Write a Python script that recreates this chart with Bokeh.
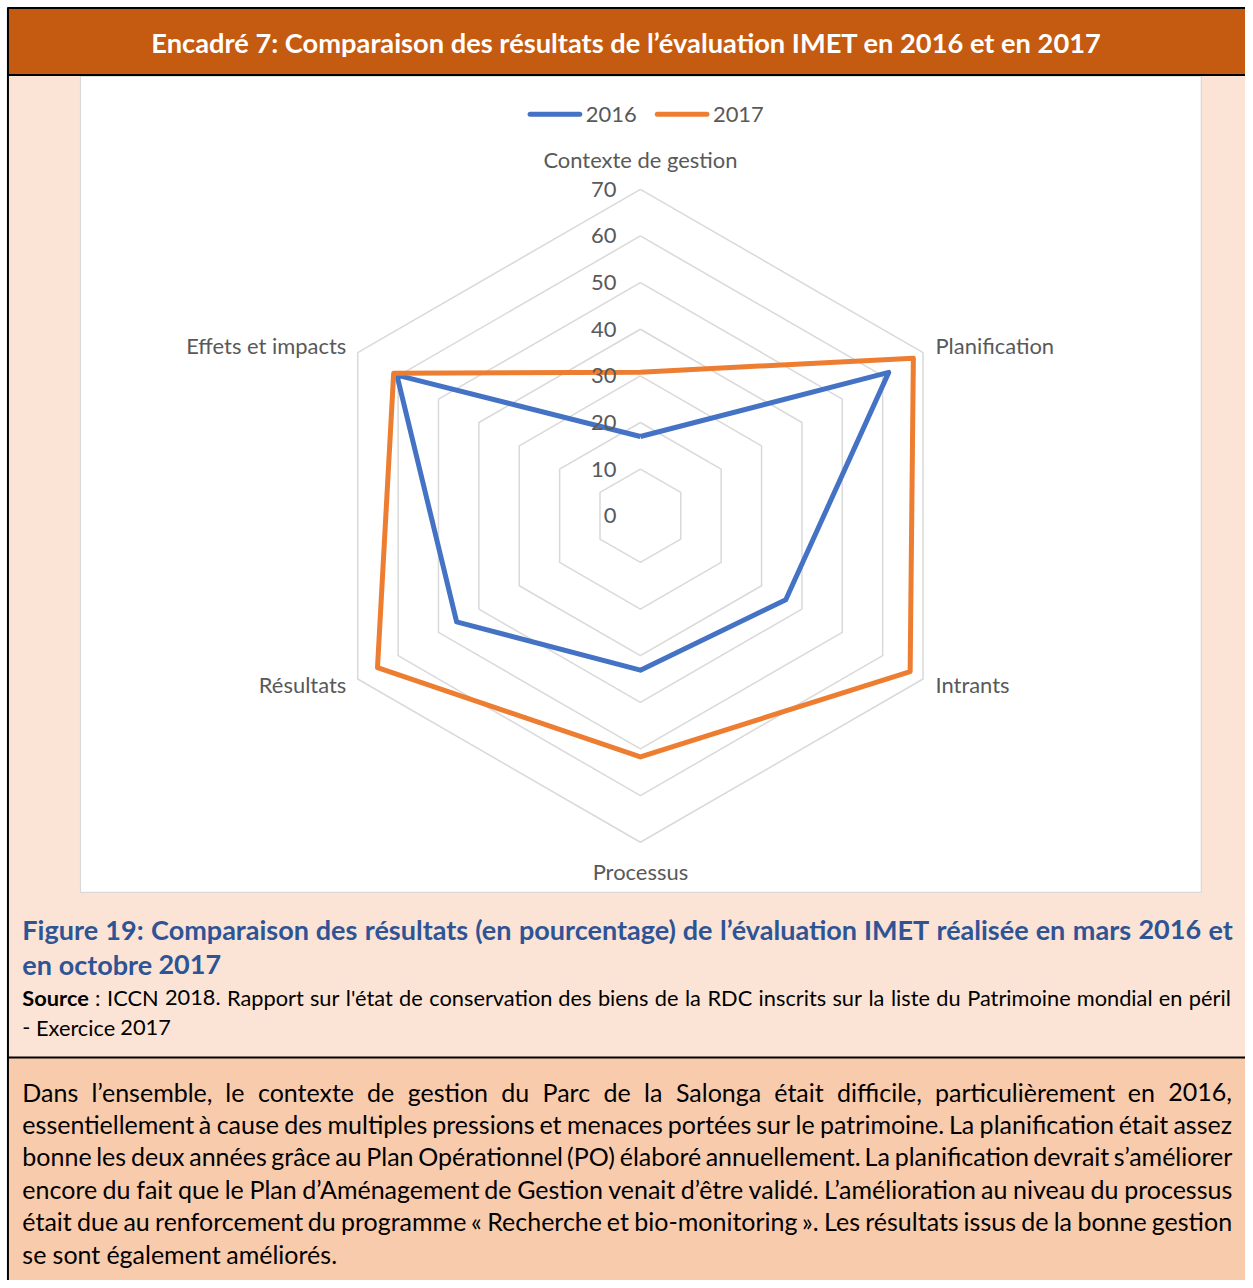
import os
import glob
import math
import subprocess

from bokeh.plotting import figure
from bokeh.models import Range1d
from bokeh.core.properties import value
from bokeh.embed import file_html
from bokeh.resources import INLINE

# ---------------- data ----------------
categories = ["Contexte de gestion", "Planification", "Intrants",
              "Processus", "Résultats", "Effets et impacts"]
series_names = ["2016", "2017"]
values_2016 = [17.0, 61.5, 36.0, 33.1, 45.5, 60.3]
values_2017 = [30.8, 67.6, 66.8, 51.7, 65.1, 61.1]
ring_values = [10, 20, 30, 40, 50, 60, 70]
tick_values = [0, 10, 20, 30, 40, 50, 60, 70]
tick_labels = ["0", "10", "20", "30", "40", "50", "60", "70"]

title_text = "Encadré 7: Comparaison des résultats de l’évaluation IMET en 2016 et en 2017"
caption_lines = [
    "Figure 19: Comparaison des résultats (en pourcentage) de l’évaluation IMET réalisée en mars 2016 et",
    "en octobre 2017",
]
source_bold = "Source"
source_lines = [
    " : ICCN 2018. Rapport sur l'état de conservation des biens de la RDC inscrits sur la liste du Patrimoine mondial en péril",
    "- Exercice 2017",
]
body_lines = [
    "Dans l’ensemble, le contexte de gestion du Parc de la Salonga était difficile, particulièrement en 2016,",
    "essentiellement à cause des multiples pressions et menaces portées sur le patrimoine. La planification était assez",
    "bonne les deux années grâce au Plan Opérationnel (PO) élaboré annuellement. La planification devrait s’améliorer",
    "encore du fait que le Plan d’Aménagement de Gestion venait d’être validé. L’amélioration au niveau du processus",
    "était due au renforcement du programme « Recherche et bio-monitoring ». Les résultats issus de la bonne gestion",
    "se sont également améliorés.",
]

# ---------------- styles ----------------
FONT = "Lato"
BLUE = "#4472C4"
ORANGE = "#ED7D31"
GRAY_TXT = "#595959"
GRID = "#D9D9D9"
HEADER = "#C55A11"
PALE = "#FBE4D5"
PEACH = "#F8CBAD"
CAPTION = "#2F5496"


# ---------------- font measuring (for sizing / justification) ----------------
def find_font(family, bold):
    style = ":bold" if bold else ":regular"
    try:
        r = subprocess.run(["fc-match", "-f", "%{family}\t%{file}", family + style],
                           capture_output=True, text=True, timeout=10)
        fam, path = r.stdout.split("\t", 1)
        path = path.strip()
        if family.lower() in fam.lower() and os.path.exists(path):
            return path
    except Exception:
        pass
    pats = ["Lato-Bold.ttf", "Lato-Bold.otf"] if bold else ["Lato-Regular.ttf", "Lato-Regular.otf"]
    for d in ["/usr/share/fonts", "/usr/local/share/fonts",
              os.path.expanduser("~/.fonts"), os.path.expanduser("~/.local/share/fonts")]:
        for pat in pats:
            hits = glob.glob(os.path.join(d, "**", pat), recursive=True)
            if hits:
                return hits[0]
    return None


_fonts = {}
try:
    from PIL import ImageFont
    for b in (False, True):
        pth = find_font(FONT, b)
        if pth:
            _fonts[b] = ImageFont.truetype(pth, 100)
except Exception:
    _fonts = {}
MEASURE = (False in _fonts) and (True in _fonts)


def text_w(text, size, bold=False):
    if MEASURE:
        return _fonts[bold].getlength(text) * size / 100.0
    return len(text) * size * (0.53 if bold else 0.50)


def fit(text, target, bold=False):
    return target / text_w(text, 1.0, bold)


def mixed_w(items, size):
    return sum(text_w(t, size, b) for t, b in items)


# ---------------- figure ----------------
# data coordinates = reference-picture pixel coordinates (1253 x 1288)
W, H = 1245, 1280
p = figure(width=W, height=H, x_range=Range1d(0, 1253), y_range=Range1d(1288, 0),
           output_backend="svg", toolbar_location=None, min_border=0,
           x_axis_location=None, y_axis_location=None)
p.grid.visible = False
p.outline_line_color = None
p.background_fill_color = "white"
p.border_fill_color = "white"

# panels
p.quad(left=[7], right=[1253], top=[7], bottom=[75], fill_color=HEADER, line_color=None)
p.quad(left=[7], right=[1253], top=[75], bottom=[1063], fill_color=PALE, line_color=None)
p.quad(left=[7], right=[1253], top=[1063], bottom=[1288], fill_color=PEACH, line_color=None)
p.quad(left=[80.5], right=[1208.5], top=[76], bottom=[897.5], fill_color="white",
       line_color=GRID, line_width=1.2)
# black rules
p.segment(x0=[7, 7, 7, 7.5], y0=[7.5, 75, 1063.5, 7], x1=[1253, 1253, 1253, 7.5],
          y1=[7.5, 75, 1063.5, 1288], line_color="black", line_width=2)

# header title
s_title = fit(title_text, 950, True)
p.text(x=[630], y=[42], text=[title_text], text_font=value(FONT), text_font_style="bold",
       text_font_size=value(f"{s_title:.2f}px"), text_color="white",
       text_align="center", text_baseline="middle")

# ---------------- radar ----------------
cx, cy = 644.0, 518.5
scale = 328.5 / 70.0
n = len(categories)
angles = [2 * math.pi * k / n for k in range(n)]


def to_xy(vals):
    xs = [cx + v * scale * math.sin(a) for v, a in zip(vals, angles)]
    ys = [cy - v * scale * math.cos(a) for v, a in zip(vals, angles)]
    return xs + xs[:1], ys + ys[:1]


ring_xs, ring_ys = [], []
for rv in ring_values:
    xs, ys = to_xy([rv] * n)
    ring_xs.append(xs)
    ring_ys.append(ys)
p.multi_line(xs=ring_xs, ys=ring_ys, line_color=GRID, line_width=1.5)

for vals, col in ((values_2016, BLUE), (values_2017, ORANGE)):
    xs, ys = to_xy(vals)
    p.line(xs, ys, line_color=col, line_width=5, line_join="round")

# chart text size
label_targets = [193, 118, 74, 95, 88, 162]
s_lab = sum(fit(c, t) for c, t in zip(categories, label_targets)) / len(categories)
fs_lab = value(f"{s_lab:.2f}px")

# tick labels
p.text(x=[620] * len(tick_values), y=[cy - v * scale for v in tick_values], text=tick_labels,
       text_font=value(FONT), text_font_size=fs_lab, text_color=GRAY_TXT,
       text_align="right", text_baseline="middle")

# category labels
lab_pos = [(644, 160, "center"), (941, 347, "left"), (941, 688, "left"),
           (644, 876, "center"), (348, 688, "right"), (348, 347, "right")]
for c, (lx, ly, al) in zip(categories, lab_pos):
    p.text(x=[lx], y=[ly], text=[c], text_font=value(FONT), text_font_size=fs_lab,
           text_color=GRAY_TXT, text_align=al, text_baseline="middle")

# legend
for (nm, col, x0) in ((series_names[0], BLUE, 531), (series_names[1], ORANGE, 659)):
    p.segment(x0=[x0 + 2], y0=[114.5], x1=[x0 + 52], y1=[114.5], line_color=col,
              line_width=5, line_cap="round")
    p.text(x=[x0 + 58], y=[115], text=[nm], text_font=value(FONT), text_font_size=fs_lab,
           text_color=GRAY_TXT, text_align="left", text_baseline="middle")


# ---------------- paragraph text ----------------
def draw_line(items, y, x0, x1, size, color, justify):
    """items: list of (text, bold) words."""
    fs = value(f"{size:.2f}px")
    if not MEASURE:
        t = " ".join(t for t, _ in items)
        p.text(x=[x0], y=[y], text=[t], text_font=value(FONT), text_font_size=fs,
               text_color=color, text_align="left", text_baseline="middle")
        return
    widths = [text_w(t, size, b) for t, b in items]
    space = text_w(" ", size)
    if justify and len(items) > 1:
        gap = (x1 - x0 - sum(widths)) / (len(items) - 1)
    else:
        gap = space
    xs, x = [], x0
    for w in widths:
        xs.append(x)
        x += w + gap
    for bold in (False, True):
        sel = [i for i, (_, b) in enumerate(items) if b == bold]
        if sel:
            p.text(x=[xs[i] for i in sel], y=[y] * len(sel), text=[items[i][0] for i in sel],
                   text_font=value(FONT), text_font_size=fs,
                   text_font_style="bold" if bold else "normal", text_color=color,
                   text_align="left", text_baseline="middle")


def words(line, bold=False):
    return [(w, bold) for w in line.split(" ") if w]


def natural(items, size):
    return mixed_w(items, size) + text_w(" ", size) * (len(items) - 1)


# caption
cap_items = [words(l, True) for l in caption_lines]
s_a = fit(caption_lines[1], 197, True)
s_b = s_a * 1218 / natural(cap_items[0], s_a)
s_cap = 0.5 * (s_a + s_b)
draw_line(cap_items[0], 935, 22, 1240, s_cap, CAPTION, True)
draw_line(cap_items[1], 970, 22, 1240, s_cap, CAPTION, False)

# source
src_items0 = [(source_bold, True)] + words(source_lines[0])
s_a = fit(source_lines[1], 146)
s_b = s_a * 1216 / natural(src_items0, s_a)
s_src = 0.5 * (s_a + s_b)
draw_line(src_items0, 1003, 22, 1238, s_src, "black", True)
draw_line(words(source_lines[1]), 1033, 22, 1238, s_src, "black", False)

# body
body_items = [words(l) for l in body_lines]
s_body = fit(body_lines[-1], 316)
for it in body_items[:-1]:
    nat = mixed_w(it, s_body) + text_w(" ", s_body) * 0.55 * (len(it) - 1)
    if nat > 1217:
        s_body *= 1217 / nat
body_y = [1098, 1130.5, 1163, 1196, 1228.5, 1261]
for k, (it, yy) in enumerate(zip(body_items, body_y)):
    draw_line(it, yy, 22, 1239, s_body, "black", k < len(body_items) - 1)

open("out.html", "w").write(file_html(p, INLINE))
